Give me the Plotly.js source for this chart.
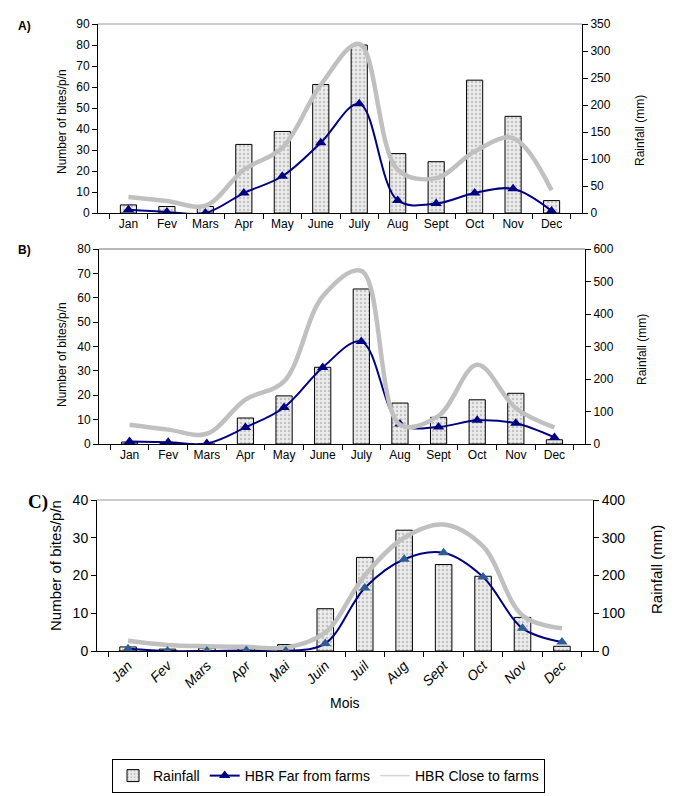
<!DOCTYPE html>
<html><head><meta charset="utf-8">
<script src="https://cdn.plot.ly/plotly-3.0.1.min.js"></script>
<style>html,body{margin:0;padding:0;background:#fff}#chart{width:685px;height:796px}</style>
</head><body><div id="chart"></div>
<script>
// ---- data ----
const monthsAB = ['Jan','Fev','Mars','Apr','May','June','July','Aug','Sept','Oct','Nov','Dec'];
const monthsC  = ['Jan','Fev','Mars','Apr','Mai','Juin','Juil','Aug','Sept','Oct','Nov','Dec'];

const rainA  = [15, 12, 12, 127, 151, 238, 311, 110, 95, 246, 179, 23];
const farA   = [1.5, 0.5, 0, 9.5, 17.5, 33.5, 52, 6, 4.5, 9.5, 11.5, 1];
const closeA = [7.6, 5.7, 3.5, 20.6, 31, 61, 80.5, 20.6, 16.6, 29.3, 35.7, 10.8];

const rainB  = [6, 2, 0, 80, 148, 236, 477, 126, 82, 136, 156, 13];
const farB   = [1, 0.7, 0.2, 6.8, 15, 31.4, 42, 8.2, 7, 9.7, 8.5, 2.7];
const closeB = [7.9, 5.9, 4.2, 18.2, 25.7, 60.5, 71, 7.9, 11.5, 32.5, 14.7, 6.8];

const rainC  = [10.7, 5, 8, 10, 17, 112, 248, 320, 229, 198, 89, 12.5];
const farC   = [0.6, 0, 0, 0.1, 0, 2, 16.7, 24.3, 26, 19.6, 6, 2.4];
const closeC = [2.7, 1.6, 1.25, 1.1, 0.9, 4.9, 20, 30, 33.5, 27.7, 9.4, 6];

// ---- styles ----
const ARIAL = 'Liberation Sans, Arial, sans-serif';
const NARROW = '"Liberation Sans Narrow", "Arial Narrow", "Liberation Sans", sans-serif';
const NAVY = '#000080';
const GREY = '#c0c0c0';
const W = 685, H = 796;
const fx = p => p / W;
const fy = p => 1 - p / H;

const barMarker = {color:'#e6e6e6', line:{color:'#000', width:1},
  pattern:{shape:'.', fgcolor:'#c4c4c4', bgcolor:'#ececec', size:4, solidity:0.3}};

function bar(x, y, xa, ya, show) {
  return {type:'bar', x, y, xaxis:xa, yaxis:ya, name:'Rainfall', showlegend:show, width:0.42, marker:barMarker};
}
function closeLine(x, y, xa, ya) {
  return {type:'scatter', mode:'lines', x, y, xaxis:xa, yaxis:ya, name:'HBR Close to farms', showlegend:false,
    line:{color:GREY, width:4.5, shape:'spline', smoothing:1}};
}
function far(x, y, xa, ya, show, mcol) {
  return {type:'scatter', mode:'lines+markers', x, y, xaxis:xa, yaxis:ya, name:'HBR Far from farms', showlegend:show,
    line:{color:NAVY, width:2, shape:'spline', smoothing:1},
    marker:{symbol:'triangle-up', size:10, color:mcol}};
}

const data = [
  bar(monthsAB, rainA, 'x', 'y', true),
  far(monthsAB, farA, 'x', 'y2', true, NAVY),
  closeLine(monthsAB, closeA, 'x', 'y2'),
  // legend-only entry (thin grey line, as in the reference legend)
  {type:'scatter', mode:'lines', x:[null], y:[null], xaxis:'x', yaxis:'y2', name:'HBR Close to farms', showlegend:true,
    line:{color:'#d4d4d4', width:1.5}, hoverinfo:'skip'},
  bar(monthsAB, rainB, 'x2', 'y3', false),
  far(monthsAB, farB, 'x2', 'y4', false, NAVY),
  closeLine(monthsAB, closeB, 'x2', 'y4'),
  bar(monthsC, rainC, 'x3', 'y5', false),
  closeLine(monthsC, closeC, 'x3', 'y6'),
  far(monthsC, farC, 'x3', 'y6', false, '#2d5d94'),
];

function xax(l, r, anchor, font, extra) {
  return Object.assign({domain:[fx(l), fx(r)], anchor, type:'category', showline:true, linecolor:'#000', linewidth:1,
    ticks:'outside', tickson:'boundaries', ticklen:5, tickcolor:'#000', showgrid:false, zeroline:false,
    tickfont:font, fixedrange:true}, extra || {});
}
function yax(t, b, anchor, range, dtick, side, font, overlay) {
  const o = {domain:[fy(b), fy(t)], anchor, range, dtick, side, showline:true, linecolor:'#000', linewidth:1,
    ticks:'outside', ticklen:5, tickcolor:'#000', showgrid:false, zeroline:false, tickfont:font, fixedrange:true};
  if (overlay) o.overlaying = overlay;
  return o;
}
const fAB = {family:ARIAL, size:12, color:'#000'};
const fC = {family:NARROW, size:14, color:'#000'};

function ann(text, x, y, font, angle) {
  const a = {text, xref:'paper', yref:'paper', x:fx(x), y:fy(y), xanchor:'center', yanchor:'middle', showarrow:false, font};
  if (angle !== undefined) a.textangle = angle;
  return a;
}

const layout = {
  width:W, height:H, margin:{l:0, r:0, t:0, b:0}, paper_bgcolor:'#fff', plot_bgcolor:'rgba(0,0,0,0)',
  showlegend:true, barmode:'group',
  legend:{orientation:'h', x:fx(112), y:fy(759), xanchor:'left', yanchor:'top', bordercolor:'#000', borderwidth:1,
    font:{family:ARIAL, size:14, color:'#000'}, traceorder:'normal', itemwidth:30, tracegroupgap:0},
  xaxis: xax(98, 582, 'y', fAB),
  yaxis: yax(24, 213, 'x', [0,350], 50, 'right', fAB),
  yaxis2: yax(24, 213, 'x', [0,90], 10, 'left', fAB, 'y'),
  xaxis2: xax(99, 585, 'y3', fAB),
  yaxis3: yax(249, 444, 'x2', [0,600], 100, 'right', fAB),
  yaxis4: yax(249, 444, 'x2', [0,80], 10, 'left', fAB, 'y3'),
  xaxis3: xax(97, 593, 'y5', fC, {tickangle:-45, tickfont:{family:NARROW, size:14, color:'#000', style:'italic'}}),
  yaxis5: yax(500, 651, 'x3', [0,400], 100, 'right', fC),
  yaxis6: yax(500, 651, 'x3', [0,40], 10, 'left', fC, 'y5'),
  shapes: [
    {type:'line', xref:'x domain', yref:'y domain', x0:0, x1:1, y0:1, y1:1, line:{color:'#9a9a9a', width:1}},
    {type:'line', xref:'x2 domain', yref:'y3 domain', x0:0, x1:1, y0:1, y1:1, line:{color:'#b8b8b8', width:2}},
    {type:'line', xref:'x3 domain', yref:'y5 domain', x0:0, x1:1, y0:1, y1:1, line:{color:'#9a9a9a', width:1}},
  ],
  annotations: [
    ann('<b>A)</b>', 25, 26, {family:ARIAL, size:12, color:'#000'}),
    ann('<b>B)</b>', 25, 250, {family:ARIAL, size:12, color:'#000'}),
    ann('<b>C)</b>', 38, 502, {family:'Liberation Serif, Times New Roman, serif', size:19, color:'#000'}),
    ann('Number of bites/p/n', 62, 122, {family:ARIAL, size:12, color:'#000'}, -90),
    ann('Rainfall (mm)', 640, 131, {family:ARIAL, size:12, color:'#000'}, -90),
    ann('Number of bites/p/n', 62, 355, {family:ARIAL, size:12, color:'#000'}, -90),
    ann('Rainfall (mm)', 642, 350, {family:ARIAL, size:12, color:'#000'}, -90),
    ann('Number of bites/p/n', 55, 566, {family:ARIAL, size:15, color:'#000'}, -90),
    ann('Rainfall (mm)', 656, 570, {family:ARIAL, size:15, color:'#000'}, -90),
    ann('Mois', 345, 703, {family:NARROW, size:14, color:'#000'}),
  ]
};

Plotly.newPlot('chart', data, layout, {displayModeBar:false, staticPlot:true});
</script></body></html>
